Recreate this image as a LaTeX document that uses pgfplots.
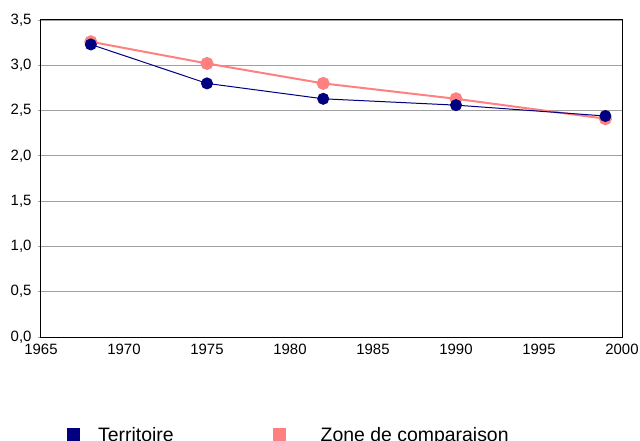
\documentclass[border=0pt]{standalone}
\usepackage{fontspec}
\setmainfont{Liberation Sans}
\usepackage{pgfplots}
\pgfplotsset{compat=1.18}
\definecolor{navyc}{RGB}{0,0,128}
\definecolor{pinkc}{RGB}{255,128,128}
\definecolor{gridc}{RGB}{160,160,160}
\begin{document}
\begin{tikzpicture}[x=1bp,y=1bp]
\useasboundingbox (-41bp,-104bp) rectangle (599bp,337bp);
\begin{axis}[
  at={(0bp,0bp)}, anchor=south west,
  scale only axis, width=581bp, height=317bp,
  xmin=1965, xmax=2000, ymin=0, ymax=3.5,
  xtick={1965,1970,...,2000},
  ytick={0,0.5,...,3.5},
  ymajorgrids, grid style={gridc, line width=0.8bp},
  axis line style={black, line width=1bp},
  tick style={gridc, line width=0.8bp},
  xtick style={draw=none},
  ytick pos=left,
  tick align=outside, major tick length=3bp,
  y tick label style={/pgf/number format/fixed, /pgf/number format/fixed zerofill, /pgf/number format/precision=1, /pgf/number format/use comma, xshift=-3bp},
  x tick label style={/pgf/number format/set thousands separator={}, yshift=-1bp},
  /pgf/number format/assume math mode=true,
  tick label style={font=\fontsize{15}{17}\selectfont},
  legend columns=2,
  legend style={draw=none, fill=none, at={(axis description cs:0,0)}, anchor=north west,
     xshift=23bp, yshift=-86bp, font=\fontsize{19.5}{21}\selectfont,
     /tikz/every odd column/.append style={column sep=16bp},
     /tikz/every even column/.append style={column sep=97bp}},
  legend cell align=left,
  legend image code/.code={\path[#1, draw=none, fill] (0bp,-6.5bp) rectangle (13bp,6.5bp);},
]
\addlegendimage{navyc}
\addlegendentry{Territoire}
\addlegendimage{pinkc}
\addlegendentry{\hspace{17bp}Zone de comparaison}
\addplot[forget plot, pinkc, line width=2bp, mark=*, mark size=5.5bp, mark options={fill=pinkc, draw=pinkc}]
  coordinates {(1968,3.26) (1975,3.02) (1982,2.80) (1990,2.63) (1999,2.41)};
\addplot[forget plot, navyc, line width=1bp, mark=*, mark size=5.5bp, mark options={fill=navyc, draw=navyc}]
  coordinates {(1968,3.23) (1975,2.80) (1982,2.63) (1990,2.56) (1999,2.44)};
\end{axis}
\end{tikzpicture}
\end{document}
